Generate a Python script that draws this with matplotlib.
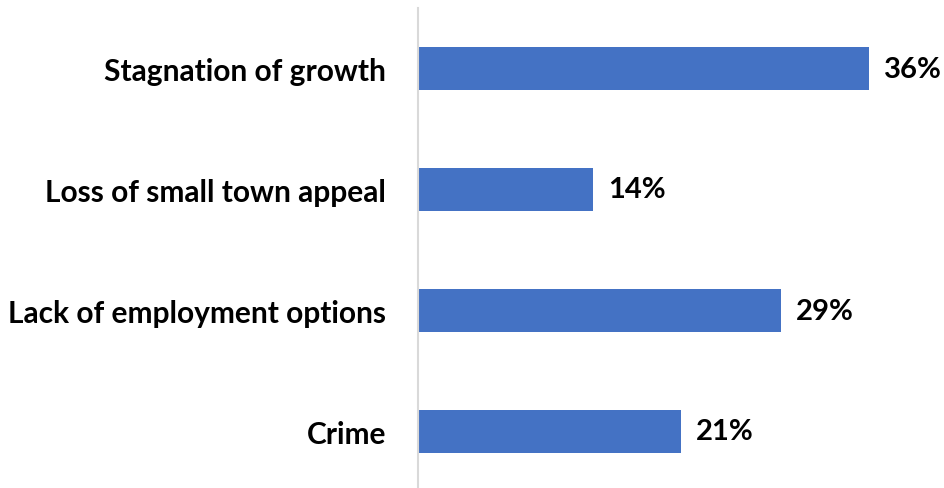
import matplotlib.pyplot as plt

categories = ["Stagnation of growth", "Loss of small town appeal",
              "Lack of employment options", "Crime"]
values = [36, 14, 29, 21]

plt.rcParams['font.family'] = ['Lato', 'DejaVu Sans']

fig = plt.figure(figsize=(9.45, 4.89), dpi=100)
ax = fig.add_axes([418 / 945, -4 / 489, 527 / 945, 484 / 489])

pos = list(range(len(categories)))[::-1]
ax.barh(pos, values, height=0.35, color="#4472C4")

for y, v in zip(pos, values):
    ax.text(v + 1.2, y, f"{v}%", va="center", ha="left",
            fontsize=21, fontweight="bold", color="black")

ax.set_xlim(0, 42.1)
ax.set_ylim(-0.5, 3.5)
ax.set_yticks(pos)
ax.set_yticklabels(categories, fontsize=21.5, fontweight="bold")
ax.tick_params(axis="y", length=0, pad=23)
ax.set_xticks([])

for side in ["top", "right", "bottom"]:
    ax.spines[side].set_visible(False)
ax.spines["left"].set_color("#d9d9d9")
ax.spines["left"].set_linewidth(1.5)

fig.savefig("out.png", dpi=100)
